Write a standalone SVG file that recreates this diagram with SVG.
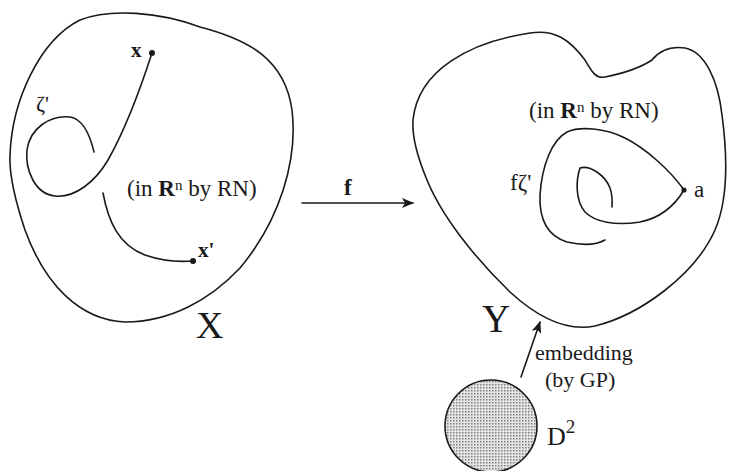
<svg xmlns="http://www.w3.org/2000/svg" width="730" height="471" viewBox="0 0 730 471">
<defs>
<style>
.ln{fill:none;stroke:#1a1a1a;stroke-width:1.6;stroke-linecap:round;stroke-linejoin:round}
.t{font-family:"Liberation Serif","Times New Roman",serif;fill:#1a1a1a}
.b{font-weight:bold}
</style>
<marker id="ah" viewBox="0 0 12 10" refX="11" refY="5" markerWidth="12" markerHeight="10" markerUnits="userSpaceOnUse" orient="auto">
<path d="M0,0 L12,5 L0,10 L3,5 Z" fill="#1a1a1a"/>
</marker>
<pattern id="dots" width="3" height="3" patternUnits="userSpaceOnUse">
<rect width="3" height="3" fill="#e4e4e4"/>
<rect width="1.5" height="1.5" fill="#808080"/>
</pattern>
</defs>
<g id="X">
<path class="ln" d="M10 155 C12 100 40 40 80 20 C110 8 160 12 200 27 C250 40 285 60 292 110 C298 160 280 220 240 268 C210 300 170 322 125 322 C80 320 45 285 25 230 C15 200 9 175 10 155 Z"/>
<path class="ln" d="M152 53 C140 90 125 130 108 160 C95 182 75 198 55 196 C35 194 25 170 27 150 C30 128 50 115 70 117 C83 119 90 135 94 152"/>
<path class="ln" d="M103 193 C108 220 118 245 145 255 C165 262 180 262 193 261"/>
<circle cx="152" cy="53" r="3" fill="#1a1a1a"/>
<circle cx="193" cy="261" r="3" fill="#1a1a1a"/>
<text class="t b" x="131" y="57" font-size="21">x</text>
<text class="t b" x="198" y="257" font-size="21">x'</text>
<text class="t" x="36" y="111" font-size="22">ζ'</text>
<text class="t" x="127" y="196" font-size="23">(in <tspan class="b">R</tspan><tspan font-size="15" dy="-6">n</tspan><tspan dy="6"> by RN)</tspan></text>
<text class="t" x="196" y="338" font-size="38">X</text>
</g>
<g id="Y">
<path class="ln" d="M413 120 C418 70 470 42 530 33 C555 29 570 40 585 60 C592 72 596 79 605 77 C620 74 640 68 652 60 C660 50 670 46 685 48 C705 52 718 80 722 115 C728 160 728 200 715 230 C695 275 640 315 595 326 C565 332 535 315 510 292 C475 258 440 215 425 175 C417 155 412 135 413 120 Z"/>
<path class="ln" d="M684 190 C670 170 645 148 625 138 C605 128 580 126 567 132 C552 140 542 165 540 195 C539 220 548 236 567 242 C585 246 598 244 605 240"/>
<path class="ln" d="M684 190 C675 205 660 218 640 222 C615 226 595 222 585 212 C575 200 576 180 580 168 C590 165 605 175 610 188 C613 196 612 203 612 207"/>
<circle cx="684" cy="190" r="2.6" fill="#1a1a1a"/>
<text class="t" x="694" y="197" font-size="23">a</text>
<text class="t" x="510" y="190" font-size="23">fζ'</text>
<text class="t" x="529" y="118" font-size="23">(in <tspan class="b">R</tspan><tspan font-size="15" dy="-6">n</tspan><tspan dy="6"> by RN)</tspan></text>
<text class="t" x="482" y="332" font-size="39">Y</text>
</g>
<g id="D2">
<circle cx="491" cy="426" r="46" fill="url(#dots)" stroke="#1a1a1a" stroke-width="1.6"/>
<text class="t" x="547" y="445" font-size="26">D<tspan font-size="19" dy="-12">2</tspan></text>
</g>
<g id="connectors">
<line class="ln" x1="521" y1="377" x2="540" y2="322" marker-end="url(#ah)"/>
<line class="ln" x1="302" y1="203" x2="413" y2="203" marker-end="url(#ah)"/>
<text class="t b" x="344" y="195" font-size="23">f</text>
<text class="t" x="535" y="360" font-size="22">embedding</text>
<text class="t" x="545" y="387" font-size="22">(by GP)</text>
</g>
</svg>
